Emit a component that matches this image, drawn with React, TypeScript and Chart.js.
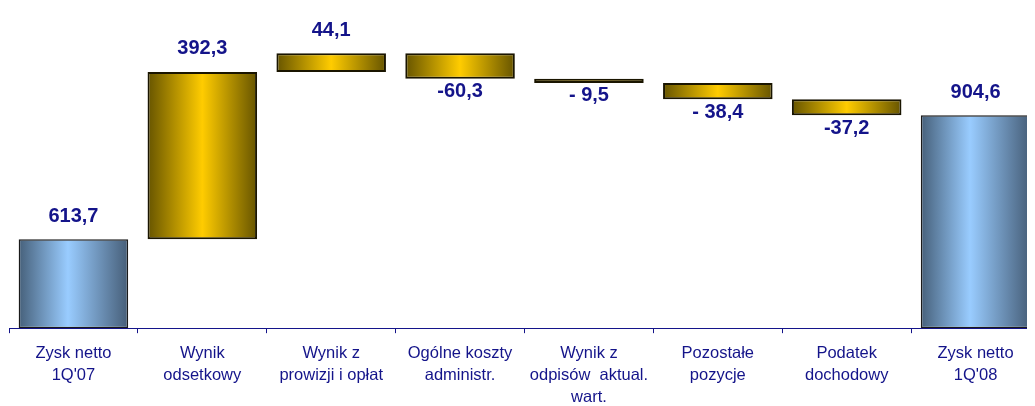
import React, { useEffect, useRef } from "react";
import { Chart, registerables } from "chart.js";

Chart.register(...registerables);

const categories: string[][] = [
  ["Zysk netto", "1Q'07"],
  ["Wynik", "odsetkowy"],
  ["Wynik z", "prowizji i opłat"],
  ["Ogólne koszty", "administr."],
  ["Wynik z", "odpisów  aktual.", "wart."],
  ["Pozostałe", "pozycje"],
  ["Podatek", "dochodowy"],
  ["Zysk netto", "1Q'08"],
];
const values: number[] = [613.7, 392.3, 44.1, -60.3, -9.5, -38.4, -37.2, 904.6];
const isTotal: boolean[] = [true, false, false, false, false, false, false, true];
const valueLabels: string[] = ["613,7", "392,3", "44,1", "-60,3", "- 9,5", "- 38,4", "-37,2", "904,6"];
const Y_MIN = 405;
const Y_MAX = 1156;

const NAVY = "#14148a";
const FONT = "'Liberation Sans', Arial, sans-serif";
const BAR_PCT = 0.85;

function buildRanges(): [number, number][] {
  const out: [number, number][] = [];
  let run = 0;
  values.forEach((v, i) => {
    if (isTotal[i]) {
      out.push([Y_MIN, v]);
      run = v;
    } else {
      out.push([run, run + v]);
      run += v;
    }
  });
  return out;
}

const labelPlugin = {
  id: "valueLabels",
  afterDatasetsDraw(chart: any) {
    const ctx = chart.ctx;
    const meta = chart.getDatasetMeta(0);
    ctx.save();
    ctx.font = `bold 20px ${FONT}`;
    ctx.fillStyle = NAVY;
    ctx.textAlign = "center";
    ctx.textBaseline = "middle";
    meta.data.forEach((el: any, i: number) => {
      const top = Math.min(el.y, el.base);
      const bottom = Math.max(el.y, el.base);
      if (isTotal[i] || values[i] >= 0) {
        ctx.fillText(valueLabels[i], el.x, top - 23);
      } else {
        ctx.fillText(valueLabels[i], el.x, bottom + 13);
      }
    });
    ctx.restore();
  },
};

function makeGradient(c: any, total: boolean) {
  const chart = c.chart;
  const area = chart.chartArea;
  const xs = chart.scales.x;
  if (!area || !xs) return total ? "#99ccff" : "#ffcc00";
  const cx = xs.getPixelForValue(c.dataIndex);
  const half = ((area.right - area.left) / categories.length) * BAR_PCT / 2;
  const g = chart.ctx.createLinearGradient(cx - half, 0, cx + half, 0);
  if (total) {
    g.addColorStop(0, "#46607a");
    g.addColorStop(0.45, "#99ccff");
    g.addColorStop(1, "#465e78");
  } else {
    g.addColorStop(0, "#665400");
    g.addColorStop(0.5, "#ffcc00");
    g.addColorStop(1, "#665400");
  }
  return g;
}

export default function App() {
  const ref = useRef<HTMLCanvasElement | null>(null);
  useEffect(() => {
    if (!ref.current) return;
    const chart = new Chart(ref.current, {
      type: "bar",
      data: {
        labels: categories,
        datasets: [
          {
            data: buildRanges() as any,
            backgroundColor: (c: any) => makeGradient(c, isTotal[c.dataIndex]),
            borderColor: (c: any) => (isTotal[c.dataIndex] ? "#1a1a1a" : "#1a1500"),
            borderWidth: (c: any) => (isTotal[c.dataIndex] ? 1.5 : 2),
            borderSkipped: false,
            categoryPercentage: 1,
            barPercentage: BAR_PCT,
          },
        ],
      },
      options: {
        animation: false,
        responsive: false,
        maintainAspectRatio: false,
        layout: { padding: { left: 1, right: 0, top: 0, bottom: 0 } },
        plugins: { legend: { display: false }, tooltip: { enabled: false } },
        scales: {
          x: {
            grid: {
              display: true,
              drawOnChartArea: false,
              drawTicks: true,
              tickLength: 5,
              color: NAVY,
              offset: true,
            },
            border: { display: true, color: NAVY, width: 1 },
            ticks: {
              color: NAVY,
              font: { family: FONT, size: 16.5, lineHeight: 1.33 },
              padding: 9,
              maxRotation: 0,
              autoSkip: false,
            },
          },
          y: {
            display: false,
            min: Y_MIN,
            max: Y_MAX,
          },
        },
      },
      plugins: [labelPlugin],
    });
    return () => chart.destroy();
  }, []);
  return (
    <div style={{ width: 1027, height: 398, overflow: "hidden" }}>
      <canvas ref={ref} width={1032} height={409} style={{ display: "block" }} />
    </div>
  );
}
